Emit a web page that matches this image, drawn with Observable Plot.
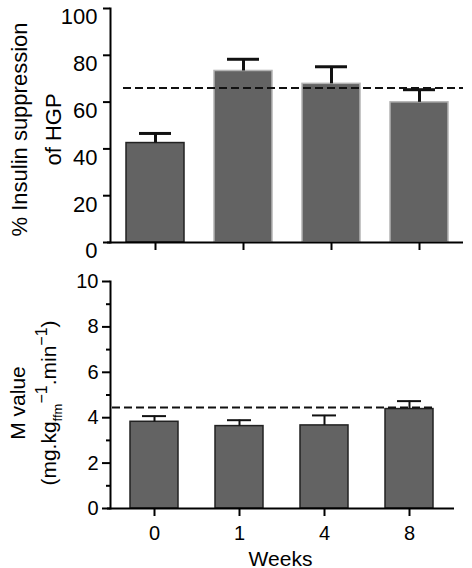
<!DOCTYPE html>
<html><head><meta charset="utf-8">
<script src="https://cdn.jsdelivr.net/npm/d3@7"></script>
<script src="https://cdn.jsdelivr.net/npm/@observablehq/plot@0.6"></script>
<style>
body{margin:0;background:#fff}
#chart svg{display:block}
</style>
</head><body><div id="chart"></div>
<script>
// ---- data ----
const weeks = ["0", "1", "4", "8"];
const hgpMean = [42.5, 73.3, 67.8, 59.9];
const hgpSem = [4.1, 5.0, 7.3, 5.4];
const hgpRef = 66.0;
const hgpTicks = [0, 20, 40, 60, 80, 100];
const hgpLabel = "% Insulin suppression\nof HGP";

const mMean = [3.82, 3.63, 3.66, 4.38];
const mSem = [0.25, 0.26, 0.44, 0.35];
const mRef = 4.45;
const mMajorTicks = [0, 2, 4, 6, 8, 10];
const mMinorTicks = [1, 3, 5, 7, 9];
const mLabel = "M value\n(mg.kg";
const mLabelParts = [["ffm", "sub"], ["\u22121", "sup"], [".min", "n"], ["\u22121", "sup"], [")", "n"]];
const xLabel = "Weeks";

const hgp = weeks.map((w, i) => ({week: w, mean: hgpMean[i], top: hgpMean[i] + hgpSem[i]}));
const mv = weeks.map((w, i) => ({week: w, mean: mMean[i], top: mMean[i] + mSem[i]}));

const font = "'Liberation Sans', Arial, Helvetica, sans-serif";
const barFill = "#636363";

const topPlot = Plot.plot({
  width: 472, height: 255,
  marginLeft: 110, marginRight: 9, marginTop: 8, marginBottom: 13,
  style: {fontFamily: font, background: "white", color: "black", overflow: "visible"},
  x: {domain: weeks, paddingInner: 0.343, paddingOuter: 0.17, axis: null},
  y: {domain: [0, 100], axis: null},
  color: {type: "identity"},
  marks: [
    Plot.barY(hgp, {x: "week", y: "mean", fill: barFill, stroke: (d, i) => i === 0 ? "#222" : "#b4b4b4", strokeWidth: 1.5}),
    Plot.ruleX(hgp, {x: "week", y1: "mean", y2: "top", stroke: "#111", strokeWidth: 3}),
    Plot.tickY(hgp, {x: "week", y: "top", stroke: "#111", strokeWidth: 3, insetLeft: 13, insetRight: 13}),
    Plot.ruleY([hgpRef], {stroke: "#111", strokeWidth: 2, strokeDasharray: "8,4", insetLeft: 13}),
    Plot.ruleY([0], {stroke: "black", strokeWidth: 2, insetLeft: -3}),
    Plot.frame({anchor: "left", stroke: "black", strokeWidth: 2}),
    Plot.axisY({ticks: hgpTicks, tickSize: 7, tickPadding: 6, fontSize: 22, strokeWidth: 2, label: null, tickFormat: d => String(d)}),
    Plot.axisX({tickSize: 8, strokeWidth: 2, tickFormat: () => "", label: null}),
    Plot.text([hgpLabel], {text: d => d, className: "ylab", frameAnchor: "left", textAnchor: "middle", rotate: -90, lineAnchor: "top", lineHeight: 1.55, dx: -108, dy: 4, fontSize: 22, fill: "black"})
  ]
});

const botPlot = Plot.plot({
  width: 472, height: 313,
  marginLeft: 110, marginRight: 18, marginTop: 26, marginBottom: 60,
  style: {fontFamily: font, background: "white", color: "black", overflow: "visible"},
  x: {domain: weeks, paddingInner: 0.433, paddingOuter: 0.226, axis: null},
  y: {domain: [0, 10], axis: null},
  marks: [
    Plot.barY(mv, {x: "week", y: "mean", fill: barFill, stroke: "#222", strokeWidth: 1.5}),
    Plot.ruleX(mv, {x: "week", y1: "mean", y2: "top", stroke: "#111", strokeWidth: 2}),
    Plot.tickY(mv, {x: "week", y: "top", stroke: "#111", strokeWidth: 2, insetLeft: 12, insetRight: 12}),
    Plot.ruleY([mRef], {stroke: "#111", strokeWidth: 2, strokeDasharray: "8,4", insetLeft: 2, insetRight: 22}),
    Plot.ruleY([0], {stroke: "black", strokeWidth: 2, insetLeft: -3}),
    Plot.frame({anchor: "left", stroke: "black", strokeWidth: 2}),
    Plot.axisY({ticks: mMajorTicks, tickSize: 8, tickPadding: 4, fontSize: 20, strokeWidth: 2, label: null, tickFormat: d => String(d)}),
    Plot.axisY({ticks: mMinorTicks, tickSize: 4, strokeWidth: 2, label: null, tickFormat: () => ""}),
    Plot.axisX({tickSize: 8, tickPadding: 9, fontSize: 20, strokeWidth: 2, label: null}),
    Plot.text([xLabel], {text: d => d, frameAnchor: "bottom", lineAnchor: "middle", dy: 51, dx: -2, fontSize: 21, fill: "black"}),
    Plot.text([mLabel], {text: d => d, className: "ylab", frameAnchor: "left", textAnchor: "middle", rotate: -90, lineAnchor: "top", lineHeight: 1.5, dx: -108, dy: 8, fontSize: 21, fill: "black"})
  ]
});

// nudge the top panel's y tick labels slightly below their ticks (as in the original)
topPlot.querySelectorAll('g[aria-label="y-axis tick label"] text').forEach(t => {
  t.setAttribute("dy", "0.4em");
});

// rich text (subscript / superscripts) for the M value unit line
(function () {
  const txt = botPlot.querySelector(".ylab text");
  if (!txt) return;
  const spans = txt.querySelectorAll("tspan");
  const line2 = spans[spans.length - 1];
  const NS = "http://www.w3.org/2000/svg";
  const cfg = {n: {size: 21, off: 0}, sub: {size: 13, off: 6}, sup: {size: 16, off: -9}};
  let cur = 0;
  for (const [s, kind] of mLabelParts) {
    const c = cfg[kind];
    const t = document.createElementNS(NS, "tspan");
    t.setAttribute("font-size", c.size);
    t.setAttribute("dy", c.off - cur);
    cur = c.off;
    t.textContent = s;
    line2.appendChild(t);
  }
})();

const chart = document.getElementById("chart");
chart.appendChild(topPlot);
chart.appendChild(botPlot);
</script>
</body></html>
